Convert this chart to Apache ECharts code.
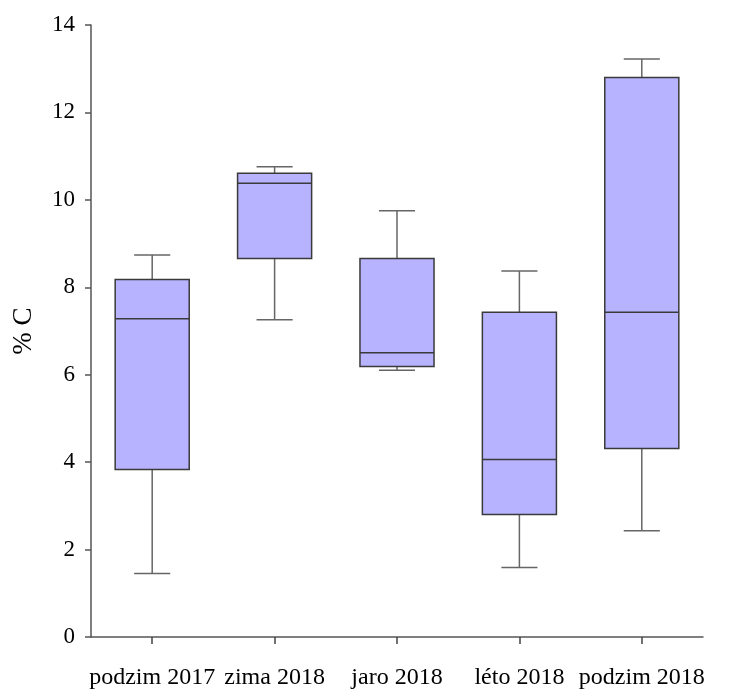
<!DOCTYPE html>
<html>
<head>
<meta charset="utf-8">
<script src="https://cdn.jsdelivr.net/npm/echarts@6/dist/echarts.min.js"></script>
<style>
  html, body { margin: 0; padding: 0; background: #fff; }
  #chart { width: 734px; height: 691px; }
</style>
</head>
<body>
<div id="chart"></div>
<script>
// box plot values
const categories = ['podzim 2017', 'zima 2018', 'jaro 2018', 'léto 2018', 'podzim 2018']
const mins = [1.45, 7.26, 6.10, 1.59, 2.43]
const q1s = [3.83, 8.66, 6.19, 2.80, 4.31]
const medians = [7.28, 10.38, 6.50, 4.06, 7.43]
const q3s = [8.18, 10.61, 8.66, 7.43, 12.80]
const maxs = [8.74, 10.76, 9.75, 8.37, 13.22]
const yTicks = [0, 2, 4, 6, 8, 10, 12, 14]

const font = 'Liberation Serif'
const boxFill = '#b7b3ff'

const data = categories.map((c, i) => [i, mins[i], q1s[i], medians[i], q3s[i], maxs[i]])

function renderBox (params, api) {
  const i = api.value(0)
  const band = api.size([1, 0])[0]
  const boxW = band * 0.605
  const capW = band * 0.295
  const pMin = api.coord([i, api.value(1)])
  const pQ1 = api.coord([i, api.value(2)])
  const pMed = api.coord([i, api.value(3)])
  const pQ3 = api.coord([i, api.value(4)])
  const pMax = api.coord([i, api.value(5)])
  const cx = pMin[0]
  const whisker = { stroke: '#666', lineWidth: 1.5 }
  const edge = { stroke: '#3a3a3a', lineWidth: 1.5 }
  return {
    type: 'group',
    children: [
      { type: 'line', shape: { x1: cx, y1: pMax[1], x2: cx, y2: pQ3[1] }, style: whisker },
      { type: 'line', shape: { x1: cx, y1: pQ1[1], x2: cx, y2: pMin[1] }, style: whisker },
      { type: 'line', shape: { x1: cx - capW / 2, y1: pMax[1], x2: cx + capW / 2, y2: pMax[1] }, style: whisker },
      { type: 'line', shape: { x1: cx - capW / 2, y1: pMin[1], x2: cx + capW / 2, y2: pMin[1] }, style: whisker },
      {
        type: 'rect',
        shape: { x: cx - boxW / 2, y: pQ3[1], width: boxW, height: pQ1[1] - pQ3[1] },
        style: { fill: boxFill, stroke: '#3a3a3a', lineWidth: 1.5 }
      },
      { type: 'line', shape: { x1: cx - boxW / 2, y1: pMed[1], x2: cx + boxW / 2, y2: pMed[1] }, style: edge }
    ]
  }
}

const chart = echarts.init(document.getElementById('chart'))
chart.setOption({
  animation: false,
  backgroundColor: '#fff',
  grid: { left: 91, right: 31, top: 25, bottom: 54 },
  xAxis: {
    type: 'category',
    data: categories,
    boundaryGap: true,
    axisLine: { lineStyle: { color: '#555', width: 1.5 } },
    axisTick: { show: true, alignWithLabel: true, interval: 0, length: 7, lineStyle: { color: '#444', width: 1.5 } },
    axisLabel: { interval: 0, hideOverlap: false, color: '#000', fontFamily: font, fontSize: 24, margin: 29 },
    splitLine: { show: false }
  },
  yAxis: {
    type: 'value',
    min: yTicks[0],
    max: yTicks[yTicks.length - 1],
    interval: 2,
    name: '% C',
    nameLocation: 'middle',
    nameGap: 54,
    nameTextStyle: { color: '#000', fontFamily: font, fontSize: 27 },
    axisLine: { show: true, lineStyle: { color: '#555', width: 1.5 } },
    axisTick: { show: true, length: 6, lineStyle: { color: '#555', width: 1.5 } },
    axisLabel: { color: '#000', fontFamily: font, fontSize: 23, margin: 16 },
    splitLine: { show: false }
  },
  series: [{
    type: 'custom',
    renderItem: renderBox,
    encode: { x: 0, y: [1, 2, 3, 4, 5] },
    data: data
  }]
})
</script>
</body>
</html>
